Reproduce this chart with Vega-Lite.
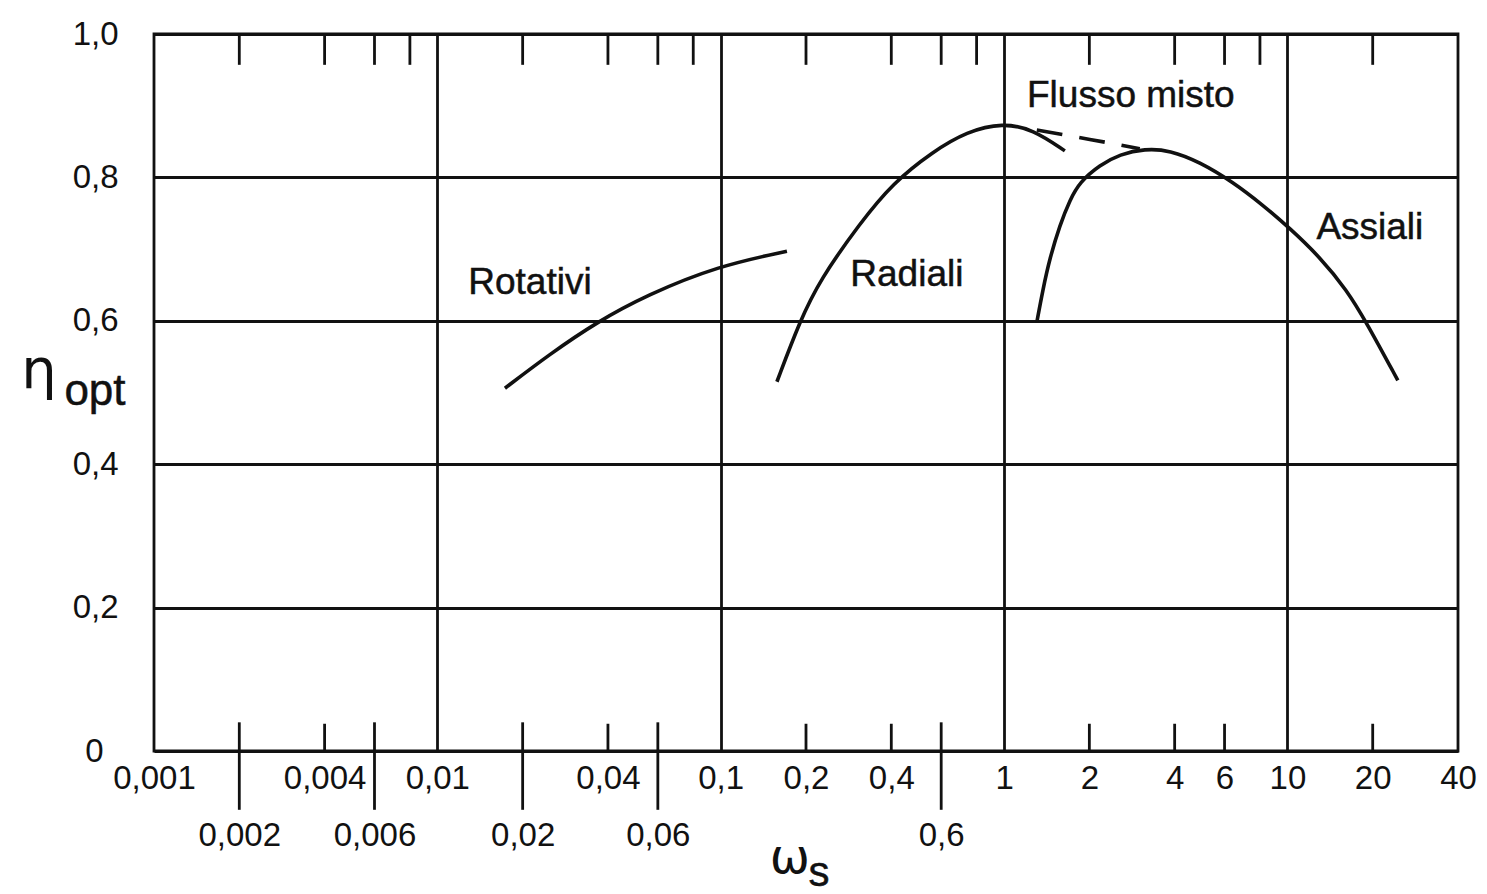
{
  "$schema": "https://vega.github.io/schema/vega-lite/v6.json",
  "width": 1304,
  "height": 717,
  "autosize": {"type": "none"},
  "padding": {"left": 154, "top": 34, "right": 29, "bottom": 143},
  "background": "white",
  "config": {
    "view": {"stroke": "#111", "strokeWidth": 2.8},
    "font": "Liberation Sans"
  },
  "datasets": {
    "curves": [
      {"series": "Rotativi", "x": 0.01732, "y": 0.506},
      {"series": "Rotativi", "x": 0.02496, "y": 0.5537},
      {"series": "Rotativi", "x": 0.03657, "y": 0.5983},
      {"series": "Rotativi", "x": 0.0549, "y": 0.636},
      {"series": "Rotativi", "x": 0.0977, "y": 0.6764},
      {"series": "Rotativi", "x": 0.1713, "y": 0.697},
      {"series": "Radiali", "x": 0.1579, "y": 0.515},
      {"series": "Radiali", "x": 0.1903, "y": 0.5997},
      {"series": "Radiali", "x": 0.2239, "y": 0.657},
      {"series": "Radiali", "x": 0.3099, "y": 0.736},
      {"series": "Radiali", "x": 0.4051, "y": 0.7922},
      {"series": "Radiali", "x": 0.5609, "y": 0.836},
      {"series": "Radiali", "x": 0.7392, "y": 0.864},
      {"series": "Radiali", "x": 0.9904, "y": 0.876},
      {"series": "Radiali", "x": 1.264, "y": 0.867},
      {"series": "Radiali", "x": 1.639, "y": 0.837},
      {"series": "Assiali", "x": 1.305, "y": 0.598},
      {"series": "Assiali", "x": 1.37, "y": 0.643},
      {"series": "Assiali", "x": 1.451, "y": 0.6876},
      {"series": "Assiali", "x": 1.574, "y": 0.7336},
      {"series": "Assiali", "x": 1.707, "y": 0.7685},
      {"series": "Assiali", "x": 1.851, "y": 0.7936},
      {"series": "Assiali", "x": 2.178, "y": 0.8173},
      {"series": "Assiali", "x": 2.563, "y": 0.8322},
      {"series": "Assiali", "x": 3.14, "y": 0.840},
      {"series": "Assiali", "x": 3.846, "y": 0.838},
      {"series": "Assiali", "x": 4.909, "y": 0.8215},
      {"series": "Assiali", "x": 6.418, "y": 0.7936},
      {"series": "Assiali", "x": 8.189, "y": 0.7615},
      {"series": "Assiali", "x": 10.2, "y": 0.729},
      {"series": "Assiali", "x": 13.01, "y": 0.689},
      {"series": "Assiali", "x": 16.2, "y": 0.643},
      {"series": "Assiali", "x": 19.06, "y": 0.597},
      {"series": "Assiali", "x": 24.53, "y": 0.517}
    ],
    "dashed": [
      {"series": "Flusso misto", "x": 1.305, "y": 0.866},
      {"series": "Flusso misto", "x": 2.008, "y": 0.853},
      {"series": "Flusso misto", "x": 3.014, "y": 0.840}
    ],
    "topTicks": [
      {"x": 0.002}, {"x": 0.004}, {"x": 0.006}, {"x": 0.008},
      {"x": 0.02}, {"x": 0.04}, {"x": 0.06}, {"x": 0.08},
      {"x": 0.2}, {"x": 0.4}, {"x": 0.6}, {"x": 0.8},
      {"x": 2}, {"x": 4}, {"x": 6}, {"x": 8},
      {"x": 20}
    ],
    "bottomTicks": [
      {"x": 0.004}, {"x": 0.04}, {"x": 0.2}, {"x": 0.4},
      {"x": 2}, {"x": 4}, {"x": 6}, {"x": 20}
    ],
    "crossTicks": [
      {"x": 0.002}, {"x": 0.006}, {"x": 0.02}, {"x": 0.06}, {"x": 0.6}
    ],
    "labels": [
      {"x": 0.02122, "y": 0.653, "t": "Rotativi"},
      {"x": 0.4539, "y": 0.664, "t": "Radiali"},
      {"x": 2.802, "y": 0.9135, "t": "Flusso misto"},
      {"x": 19.54, "y": 0.7294, "t": "Assiali"}
    ]
  },
  "layer": [
    {
      "data": {"name": "curves"},
      "mark": {"type": "line", "interpolate": "basis", "color": "#111", "strokeWidth": 3.6},
      "encoding": {
        "x": {
          "field": "x",
          "type": "quantitative",
          "scale": {"type": "log", "domain": [0.001, 40], "nice": false},
          "axis": {
            "values": [0.001, 0.002, 0.004, 0.006, 0.01, 0.02, 0.04, 0.06, 0.1, 0.2, 0.4, 0.6, 1, 2, 4, 6, 10, 20, 40],
            "labelExpr": "replace('' + datum.value, '.', ',')",
            "ticks": false,
            "domain": false,
            "grid": true,
            "gridColor": "#111",
            "gridWidth": 2.8,
            "gridOpacity": {"condition": {"test": "indexof([0.01, 0.1, 1, 10], datum.value) >= 0", "value": 1}, "value": 0},
            "labelPadding": {"condition": {"test": "indexof([0.002, 0.006, 0.02, 0.06, 0.6], datum.value) >= 0", "value": 68}, "value": 11},
            "labelFontSize": 33,
            "labelFont": "Liberation Sans",
            "labelColor": "#111",
            "labelOverlap": false,
            "labelFlush": false,
            "labelBound": false,
            "title": null
          }
        },
        "y": {
          "field": "y",
          "type": "quantitative",
          "scale": {"domain": [0, 1], "nice": false, "zero": false},
          "axis": {
            "values": [0, 0.2, 0.4, 0.6, 0.8, 1],
            "labelExpr": "datum.value == 0 ? '0' : replace(format(datum.value, '.1f'), '.', ',')",
            "ticks": false,
            "domain": false,
            "grid": true,
            "gridColor": "#111",
            "gridWidth": 2.8,
            "labelPadding": {"condition": {"test": "datum.value == 0", "value": 51}, "value": 36},
            "labelFontSize": 33,
            "labelFont": "Liberation Sans",
            "labelColor": "#111",
            "labelOverlap": false,
            "labelFlush": false,
            "labelBound": false,
            "title": null
          }
        },
        "detail": {"field": "series"}
      }
    },
    {
      "data": {"name": "dashed"},
      "mark": {"type": "line", "interpolate": "catmull-rom", "color": "#111", "strokeWidth": 3.6, "strokeDash": [26, 17]},
      "encoding": {
        "x": {"field": "x", "type": "quantitative"},
        "y": {"field": "y", "type": "quantitative"}
      }
    },
    {
      "data": {"name": "topTicks"},
      "mark": {"type": "rule", "color": "#111", "strokeWidth": 2.8},
      "encoding": {
        "x": {"field": "x", "type": "quantitative"},
        "y": {"datum": 1},
        "y2": {"datum": 0.957}
      }
    },
    {
      "data": {"name": "bottomTicks"},
      "mark": {"type": "rule", "color": "#111", "strokeWidth": 2.8},
      "encoding": {
        "x": {"field": "x", "type": "quantitative"},
        "y": {"datum": 0},
        "y2": {"datum": 0.038}
      }
    },
    {
      "data": {"name": "crossTicks"},
      "mark": {"type": "rule", "color": "#111", "strokeWidth": 2.8},
      "encoding": {
        "x": {"field": "x", "type": "quantitative"},
        "y": {"datum": 0.04},
        "y2": {"datum": -0.082}
      }
    },
    {
      "data": {"name": "labels"},
      "mark": {"type": "text", "font": "Liberation Sans", "fontSize": 37, "color": "#111", "stroke": "#111", "strokeWidth": 0.5, "align": "center", "baseline": "middle"},
      "encoding": {
        "x": {"field": "x", "type": "quantitative"},
        "y": {"field": "y", "type": "quantitative"},
        "text": {"field": "t"}
      }
    },
    {
      "data": {"values": [{"x": 0.000393, "y": 0.506, "t": "η"}]},
      "mark": {"type": "text", "font": "DejaVu Sans", "fontSize": 56, "color": "#111", "align": "center", "baseline": "alphabetic"},
      "encoding": {
        "x": {"field": "x", "type": "quantitative"},
        "y": {"field": "y", "type": "quantitative"},
        "text": {"field": "t"}
      }
    },
    {
      "data": {"values": [{"x": 0.000619, "y": 0.4826, "t": "opt"}]},
      "mark": {"type": "text", "font": "Liberation Sans", "fontSize": 44, "color": "#111", "stroke": "#111", "strokeWidth": 0.5, "align": "center", "baseline": "alphabetic"},
      "encoding": {
        "x": {"field": "x", "type": "quantitative"},
        "y": {"field": "y", "type": "quantitative"},
        "text": {"field": "t"}
      }
    },
    {
      "data": {"values": [{"x": 0.1754, "y": -0.170, "t": "ω"}]},
      "mark": {"type": "text", "font": "DejaVu Sans", "fontSize": 48, "color": "#111", "align": "center", "baseline": "alphabetic"},
      "encoding": {
        "x": {"field": "x", "type": "quantitative"},
        "y": {"field": "y", "type": "quantitative"},
        "text": {"field": "t"}
      }
    },
    {
      "data": {"values": [{"x": 0.2221, "y": -0.188, "t": "s"}]},
      "mark": {"type": "text", "font": "Liberation Sans", "fontSize": 42, "color": "#111", "stroke": "#111", "strokeWidth": 0.5, "align": "center", "baseline": "alphabetic"},
      "encoding": {
        "x": {"field": "x", "type": "quantitative"},
        "y": {"field": "y", "type": "quantitative"},
        "text": {"field": "t"}
      }
    }
  ]
}
